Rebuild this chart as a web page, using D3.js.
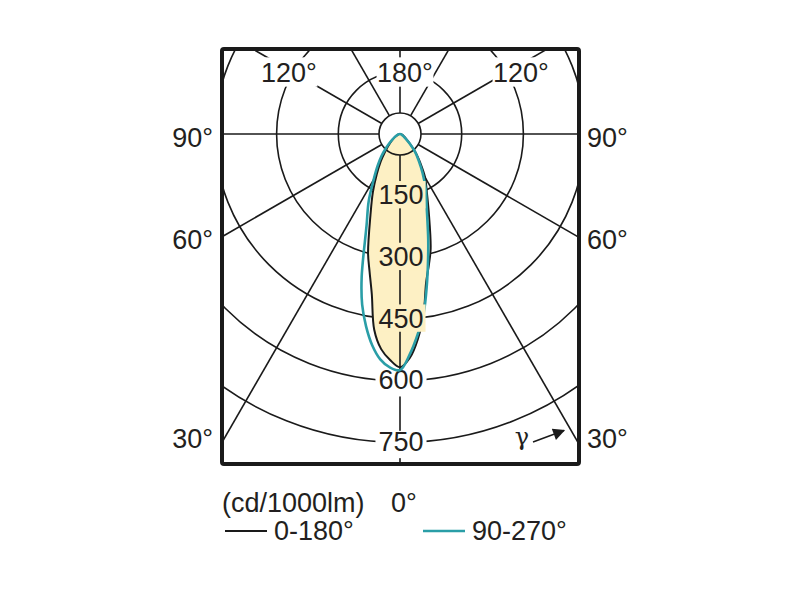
<!DOCTYPE html>
<html>
<head>
<meta charset="utf-8">
<script src="https://cdn.jsdelivr.net/npm/d3@7/dist/d3.min.js"></script>
<style>
  html, body { margin: 0; padding: 0; background: #ffffff; }
  svg { display: block; }
  text { font-family: "Liberation Sans", Arial, sans-serif; fill: #231f20; }
</style>
</head>
<body>
<svg id="chart" width="800" height="600"></svg>
<script>
// ---------- data ----------
const gammaDeg = [0, 2.5, 5, 7.5, 10, 12.5, 15, 20, 25, 30, 35, 40, 45, 50, 60, 70, 80, 90];
// plane C0-C180 (black)
const c0Values   = [567, 545, 500, 440, 366, 325, 288, 205, 154, 122, 86, 60, 36, 22, 10, 5, 2, 0];
const c180Values = [567, 550, 525, 480, 395, 342, 300, 210, 156, 113, 82, 57, 40, 28, 14, 6, 2, 0];
// plane C90-C270 (teal)
const c90Values  = [570, 537, 490, 440, 375, 315, 265, 190, 148, 110, 80, 57, 35, 18, 8, 4, 2, 0];
const c270Values = [574, 568, 550, 518, 475, 425, 360, 238, 180, 128, 95, 70, 48, 32, 15, 7, 3, 0];

const ringValues = [150, 300, 450, 600, 750];
const ringLabels = ["150", "300", "450", "600", "750"];
const gridAngles = [0, 30, 60, 90, 120, 150, 180];
const sideAngles = [90, 60, 30];
const sideLabels = ["90°", "60°", "30°"];
const topAngles = [-1, 0, 1];
const topLabels = ["120°", "180°", "120°"];
const unitLabel = "(cd/1000lm)";
const zeroLabel = "0°";
const seriesNames = ["0-180°", "90-270°"];
const seriesColors = ["#1a1a1a", "#2a9ea7"];
const fillColor = "#fdf0c4";

// ---------- layout ----------
const svg = d3.select("#chart");
const cx = 400, cy = 134;
const box = { x0: 222, y0: 49, x1: 579, y1: 464 };
const fs = 27;
const r = d3.scaleLinear().domain([0, 750]).range([0, 308.5]);
const hole = 21;
const gridW = 1.6;

const defs = svg.append("defs");
defs.append("clipPath").attr("id", "boxclip")
  .append("rect").attr("x", box.x0).attr("y", box.y0)
  .attr("width", box.x1 - box.x0).attr("height", box.y1 - box.y0);

const g = svg.append("g").attr("clip-path", "url(#boxclip)");
const plot = g.append("g").attr("transform", `translate(${cx},${cy})`);

// grid rings
plot.selectAll("circle.ring").data(ringValues).join("circle")
  .attr("class", "ring").attr("r", d => r(d))
  .attr("fill", "none").attr("stroke", "#1a1a1a").attr("stroke-width", gridW);

// radial lines (both sides), excluding vertical lines drawn later
const rad = d => d * Math.PI / 180;
const radial = [];
gridAngles.forEach(a => {
  if (a === 0 || a === 180) return;
  [-1, 1].forEach(s => radial.push({ a, s }));
});
plot.selectAll("line.rad").data(radial).join("line")
  .attr("class", "rad")
  .attr("x1", d => d.s * hole * Math.sin(rad(d.a)))
  .attr("y1", d => hole * Math.cos(rad(d.a)))
  .attr("x2", d => d.s * 700 * Math.sin(rad(d.a)))
  .attr("y2", d => 700 * Math.cos(rad(d.a)))
  .attr("stroke", "#1a1a1a").attr("stroke-width", gridW);

// hole (white)
plot.append("circle").attr("r", hole).attr("fill", "#fff").attr("stroke", "none");

// curve path builder
function polarPoints(leftVals, rightVals) {
  const pts = [];
  for (let i = gammaDeg.length - 1; i >= 0; i--) pts.push([Math.PI + rad(gammaDeg[i]), r(leftVals[i])]);
  for (let i = 1; i < gammaDeg.length; i++) pts.push([Math.PI - rad(gammaDeg[i]), r(rightVals[i])]);
  return pts;
}
const lineGen = d3.lineRadial().angle(d => d[0]).radius(d => d[1]).curve(d3.curveCatmullRom.alpha(0.5));

const blackPts = polarPoints(c180Values, c0Values);
const tealPts = polarPoints(c270Values, c90Values);

// fill
plot.append("path").attr("d", lineGen(blackPts) + "Z")
  .attr("fill", fillColor).attr("stroke", "none");

// vertical axis lines and hole outline
plot.append("line").attr("x1", 0).attr("y1", hole).attr("x2", 0).attr("y2", 400)
  .attr("stroke", "#1a1a1a").attr("stroke-width", gridW);
plot.append("line").attr("x1", 0).attr("y1", -hole).attr("x2", 0).attr("y2", -200)
  .attr("stroke", "#1a1a1a").attr("stroke-width", gridW);
plot.append("circle").attr("r", hole).attr("fill", "none")
  .attr("stroke", "#1a1a1a").attr("stroke-width", gridW);

// helper for labels with background
function bgLabel(parent, x, yc, txt, bg, padX, padTop, padBottom, anchor) {
  const t = parent.append("text").attr("x", x).attr("y", yc + 0.358 * fs)
    .attr("text-anchor", anchor || "middle").attr("font-size", fs).text(txt);
  const bb = t.node().getBBox();
  parent.insert("rect", () => t.node())
    .attr("x", bb.x - padX).attr("y", yc - 0.358 * fs - padTop)
    .attr("width", bb.width + 2 * padX).attr("height", 0.716 * fs + padTop + padBottom)
    .attr("fill", bg);
  return t;
}

// curves
const curveG = g.append("g");
const curveLayer = curveG.append("g").attr("transform", `translate(${cx},${cy})`);
curveLayer.append("path").attr("d", lineGen(blackPts))
  .attr("fill", "none").attr("stroke", seriesColors[0]).attr("stroke-width", 2);
curveLayer.append("path").attr("d", lineGen(tealPts))
  .attr("fill", "none").attr("stroke", seriesColors[1]).attr("stroke-width", 2.6);

// value labels along vertical axis (inside labels drawn over the curves)
const valG = g.append("g");
ringValues.forEach((v, i) => {
  const inside = v <= 450;
  if (inside) {
    bgLabel(valG, cx + 1, cy + r(v) - 1, ringLabels[i], fillColor, 2, 4, 4);
  } else {
    bgLabel(curveG, cx + 1, cy + r(v) - 1, ringLabels[i], "#fff", 3, 1, 7);
  }
});
// keep curves above white label backgrounds near the bottom
curveG.node().appendChild(curveLayer.node());

// top angle labels
const topG = g.append("g");
topAngles.forEach((s, i) => {
  bgLabel(topG, cx + s * 116 + 5, 72, topLabels[i], "#fff", 0.5, 5, 5);
});

// gamma arrow
const arr = g.append("g");
defs.append("marker").attr("id", "ah").attr("viewBox", "0 0 10 10")
  .attr("refX", 9).attr("refY", 5).attr("markerWidth", 14).attr("markerHeight", 12)
  .attr("markerUnits", "userSpaceOnUse").attr("orient", "auto")
  .append("path").attr("d", "M0,0 L10,5 L0,10 Z").attr("fill", "#1a1a1a");
arr.append("text").attr("x", 522).attr("y", 445).attr("text-anchor", "middle")
  .attr("font-size", 24).style("font-family", "'DejaVu Serif', 'Liberation Serif', serif").text("γ");
arr.append("line").attr("x1", 533).attr("y1", 442).attr("x2", 564).attr("y2", 430.5)
  .attr("stroke", "#1a1a1a").attr("stroke-width", 1.5).attr("marker-end", "url(#ah)");

// box frame
svg.append("rect").attr("x", box.x0).attr("y", box.y0)
  .attr("width", box.x1 - box.x0).attr("height", box.y1 - box.y0)
  .attr("rx", 2).attr("fill", "none").attr("stroke", "#1a1a1a").attr("stroke-width", 4);

// side labels
const sideY = a => Math.min(cy + (box.x1 - cx) / Math.tan(rad(a)) + 2, 438);
sideAngles.forEach((a, i) => {
  const yc = a === 90 ? cy + 3 : sideY(a);
  svg.append("text").attr("x", box.x0 - 9).attr("y", yc + 0.358 * fs)
    .attr("text-anchor", "end").attr("font-size", fs).text(sideLabels[i]);
  svg.append("text").attr("x", box.x1 + 8).attr("y", yc + 0.358 * fs)
    .attr("text-anchor", "start").attr("font-size", fs).text(sideLabels[i]);
});

// legend
const leg = svg.append("g");
leg.append("text").attr("x", 222).attr("y", 512).attr("font-size", fs).text(unitLabel);
leg.append("text").attr("x", 391).attr("y", 512).attr("font-size", fs).text(zeroLabel);
const legX = [225, 423];
seriesNames.forEach((n, i) => {
  leg.append("line").attr("x1", legX[i]).attr("x2", legX[i] + 42)
    .attr("y1", 531).attr("y2", 531)
    .attr("stroke", seriesColors[i]).attr("stroke-width", i === 0 ? 2 : 2.6);
  leg.append("text").attr("x", legX[i] + 49).attr("y", 540).attr("font-size", fs).text(n);
});
</script>
</body>
</html>
